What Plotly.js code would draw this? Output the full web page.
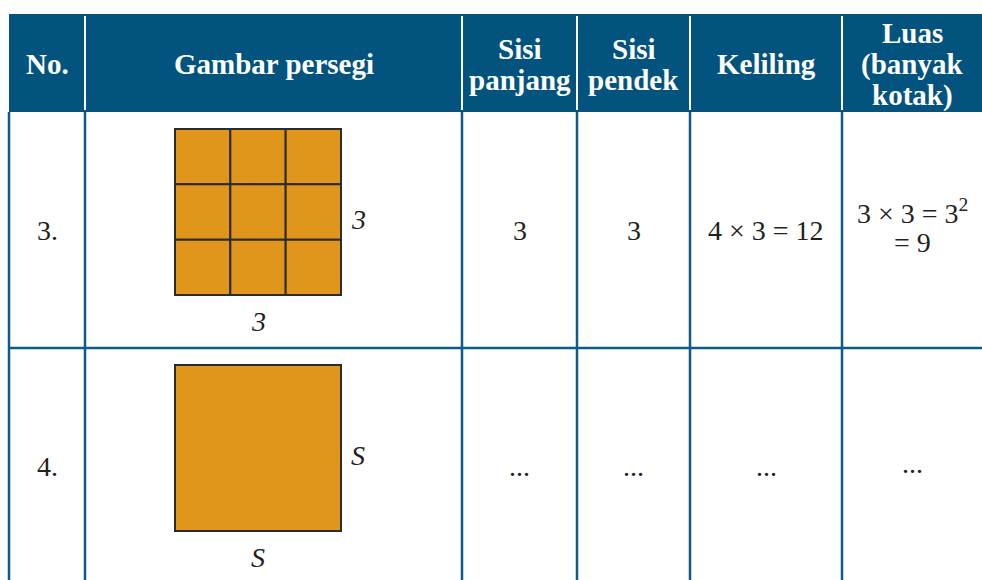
<!DOCTYPE html>
<html>
<head>
<meta charset="utf-8">
<script src="https://cdn.plot.ly/plotly-3.0.1.min.js"></script>
<style>
html,body{margin:0;padding:0;background:#fff;}
#chart svg text, #chart svg tspan { font-family: "Liberation Serif" !important; }
</style>
</head>
<body>
<div id="chart"></div>
<script>
// ---- data ----
const headers = ["No.", "Gambar persegi", "Sisi<br>panjang", "Sisi<br>pendek", "Keliling", "Luas<br>(banyak<br>kotak)"];
const rowNumbers = ["3.", "4."];
const sideLabels = ["3", "S"];
const gridCounts = [3, 1];
const sisiPanjang = ["3", "..."];
const sisiPendek = ["3", "..."];
const keliling = ["4 × 3 = 12", "..."];
const luas = ["3 × 3 = 3<sup>2</sup><br>= 9", "..."];

// ---- layout constants ----
const colEdges = [9, 85, 462, 577, 690, 842, 982];
const headerTop = 14, headerBottom = 112;
const rowEdges = [112, 348, 584];
const headerColor = "#03537f";
const lineColor = "#0b5c8c";
const fillColor = "#e0961a";
const textColor = "#231f20";
const FAM = "Liberation Serif";
const headerLineH = 31, bodyLineH = 31;

const shapes = [];
const annotations = [];

shapes.push({type: "rect", xref: "x", yref: "y", x0: colEdges[0], x1: colEdges[colEdges.length - 1],
  y0: headerTop, y1: headerBottom, fillcolor: headerColor, line: {width: 0}, layer: "below"});
for (let i = 1; i < colEdges.length - 1; i++) {
  shapes.push({type: "line", x0: colEdges[i], x1: colEdges[i], y0: headerTop + 2, y1: headerBottom - 2,
    line: {color: "#ffffff", width: 2}});
}
for (let i = 0; i < colEdges.length - 1; i++) {
  shapes.push({type: "line", x0: colEdges[i], x1: colEdges[i], y0: headerBottom, y1: rowEdges[rowEdges.length - 1],
    line: {color: lineColor, width: 2.5}});
}
for (let r = 1; r < rowEdges.length - 1; r++) {
  shapes.push({type: "line", x0: colEdges[0], x1: colEdges[colEdges.length - 1], y0: rowEdges[r], y1: rowEdges[r],
    line: {color: lineColor, width: 2.5}});
}

function mkFont(size, color, extra) {
  return Object.assign({family: FAM, size: size, color: color}, extra || {});
}

function addLines(text, cx, cy, lineH, fontFn) {
  const lines = text.split("<br>");
  const n = lines.length;
  lines.forEach((ln, k) => {
    annotations.push({x: cx, y: cy + (k - (n - 1) / 2) * lineH, xref: "x", yref: "y",
      text: ln, showarrow: false, xanchor: "center", yanchor: "middle", font: fontFn()});
  });
}

const colCenter = i => (colEdges[i] + colEdges[i + 1]) / 2;
headers.forEach((h, i) => {
  const bolded = h.split("<br>").map(s => "<b>" + s + "</b>").join("<br>");
  addLines(bolded, colCenter(i), (headerTop + headerBottom) / 2 + 1, headerLineH, () => mkFont(29, "#ffffff"));
});

const squareSize = 166, squareLeft = 175, squareTopOffset = 17;

for (let r = 0; r < rowNumbers.length; r++) {
  const cy = (rowEdges[r] + rowEdges[r + 1]) / 2;
  const bf = () => mkFont(28, textColor);
  addLines(rowNumbers[r], colCenter(0), cy, bodyLineH, bf);
  addLines(sisiPanjang[r], colCenter(2), cy, bodyLineH, bf);
  addLines(sisiPendek[r], colCenter(3), cy, bodyLineH, bf);
  addLines(keliling[r], colCenter(4), cy, bodyLineH, bf);
  addLines(luas[r], colCenter(5), cy - 3, bodyLineH, bf);

  const n = gridCounts[r];
  const top = rowEdges[r] + squareTopOffset;
  const cell = squareSize / n;
  for (let a = 0; a < n; a++) {
    for (let b = 0; b < n; b++) {
      shapes.push({type: "rect", x0: squareLeft + a * cell, x1: squareLeft + (a + 1) * cell,
        y0: top + b * cell, y1: top + (b + 1) * cell, fillcolor: fillColor,
        line: {color: "#2b2b2b", width: 2}});
    }
  }
  annotations.push({x: squareLeft + squareSize + 8, y: top + squareSize / 2 + 7, xref: "x", yref: "y",
    text: "<i>" + sideLabels[r] + "</i>", showarrow: false, xanchor: "left", yanchor: "middle", font: mkFont(28, textColor)});
  annotations.push({x: squareLeft + squareSize / 2, y: top + squareSize + 26, xref: "x", yref: "y",
    text: "<i>" + sideLabels[r] + "</i>", showarrow: false, xanchor: "center", yanchor: "middle", font: mkFont(28, textColor)});
}

const layout = {
  width: 982, height: 580,
  margin: {l: 0, r: 0, t: 0, b: 0},
  paper_bgcolor: "#ffffff", plot_bgcolor: "#ffffff",
  font: {family: FAM},
  xaxis: {range: [0, 982], visible: false, fixedrange: true},
  yaxis: {range: [580, 0], visible: false, fixedrange: true},
  showlegend: false,
  shapes: shapes,
  annotations: annotations
};

Plotly.newPlot("chart", [], layout, {staticPlot: true});
</script>
</body>
</html>
